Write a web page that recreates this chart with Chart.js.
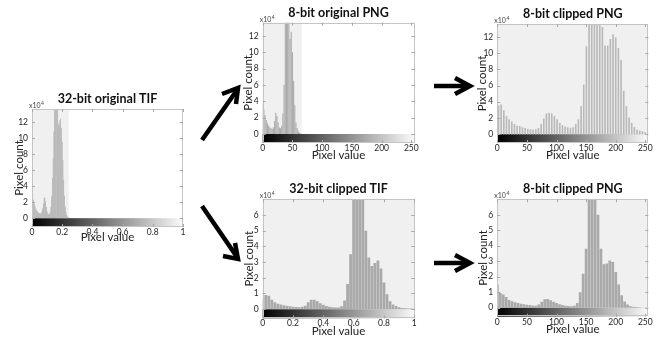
<!DOCTYPE html>
<html><head><meta charset="utf-8">
<script src="https://cdn.jsdelivr.net/npm/chart.js@4.4.1/dist/chart.umd.min.js"></script>
<style>
html,body{margin:0;padding:0;background:#fff;width:665px;height:339px;overflow:hidden;position:relative}
canvas.p{position:absolute}
svg{position:absolute;left:0;top:0;pointer-events:none}
</style></head><body>
<canvas class="p" id="p1"></canvas>
<canvas class="p" id="p2"></canvas>
<canvas class="p" id="p3"></canvas>
<canvas class="p" id="p4"></canvas>
<canvas class="p" id="p5"></canvas>
<svg width="665" height="339" viewBox="0 0 665 339">
  <g stroke="#000" stroke-width="4.5" fill="none" stroke-linecap="butt" stroke-linejoin="miter">
    <line x1="202" y1="140" x2="237" y2="90"/>
    <polyline points="222,94 238,88 236,104"/>
    <line x1="202" y1="206" x2="237" y2="257"/>
    <polyline points="223,256 238,259 235,243"/>
    <line x1="434" y1="86" x2="469" y2="86"/>
    <polyline points="455,78 470,86 455,94"/>
    <line x1="434" y1="263" x2="469" y2="263"/>
    <polyline points="455,255 470,263 455,271"/>
  </g>
</svg>
<script>
// ---------------- DATA (counts in units of 10^4) ----------------
const TITLES = ["32-bit original TIF", "8-bit original PNG", "8-bit clipped PNG", "32-bit clipped TIF", "8-bit clipped PNG"];
const X_LABEL = "Pixel value";
const Y_LABEL = "Pixel count";

// Panel 1: 32-bit original TIF, bins from 0 with width 0.005
const P1_BIN_START = 0, P1_BIN_WIDTH = 0.005;
const P1_COUNTS = [3.7,3.0,2.3,1.8,1.5,1.2,1.0,0.85,0.75,0.65,0.6,0.55,0.6,0.8,1.2,1.8,2.5,2.6,2.1,1.4,0.9,0.6,0.5,0.55,0.8,1.4,2.8,5.0,7.5,10.8,14.5,16,16,15,13.8,11.8,11.5,12.2,12.4,11.2,9.5,7.2,4.8,2.8,1.5,0.8,0.4,0.2,0.1];
const P1_DATA_MAX = 0.243;

// Panel 2: 8-bit original PNG, bins of width 2
const P2_BIN_START = 0, P2_BIN_WIDTH = 2;
const P2_COUNTS = [3.8,3.0,2.3,1.7,1.3,1.0,0.8,0.7,0.6,0.8,1.6,2.6,2.2,1.4,0.8,0.7,1.0,2.5,6.0,14.5,16,16,14,11.6,12.5,10.0,6.5,3.5,1.4,0.7,0.3,0.15,0.05];
const P2_DATA_MAX = 65.6;

// Panel 3: 8-bit clipped PNG (sparse, stretched levels)
const P3_BIN_START = 2, P3_BIN_WIDTH = 4.5;
const P3_COUNTS = [3.5,3.6,2.9,2.2,1.8,1.5,1.2,1.0,0.95,0.8,0.7,0.6,0.55,0.5,0.55,0.7,1.2,1.9,2.5,2.6,2.5,2.2,1.8,1.35,1.05,0.9,0.8,0.75,0.8,1.2,1.8,3.4,6.1,10.8,16,16,16,16,16,13.2,10.9,10.9,11.7,12.3,11.9,10.6,9.1,5.3,3.4,2.0,1.35,0.85,0.5,0.4,0.3,0.2];
const P3_DATA_MAX = 255;

// Panel 4: 32-bit clipped TIF, bins of width 0.02
const P4_BIN_START = 0, P4_BIN_WIDTH = 0.02;
const P4_COUNTS = [0.7,0.9,0.85,0.6,0.45,0.35,0.3,0.25,0.22,0.19,0.16,0.14,0.13,0.15,0.22,0.45,0.6,0.6,0.5,0.38,0.28,0.2,0.16,0.13,0.11,0.1,0.18,0.55,1.6,3.5,7.2,8,8,7.5,5.0,3.3,2.75,2.95,3.1,2.6,1.7,0.95,0.5,0.3,0.2,0.12,0.08,0.06,0.05,0.04,0.03];
const P4_DATA_MAX = 1;

// Panel 5: 8-bit clipped PNG, bins of width 5
const P5_BIN_START = 0, P5_BIN_WIDTH = 5;
const P5_COUNTS = [1.5,0.95,0.85,0.7,0.5,0.42,0.35,0.3,0.25,0.22,0.19,0.17,0.15,0.13,0.2,0.38,0.55,0.56,0.48,0.38,0.3,0.22,0.17,0.13,0.11,0.1,0.12,0.3,1.0,2.2,3.8,7.2,8,8,6.0,3.8,2.8,2.85,3.05,2.95,2.3,1.5,0.8,0.4,0.2,0.1,0.06,0.04,0.03,0.02,0.02,0.02];
const P5_DATA_MAX = 255;

// Tick labels
const X_TICKS_UNIT = [0, 0.2, 0.4, 0.6, 0.8, 1];
const X_TICKS_8BIT = [0, 50, 100, 150, 200, 250];
const Y_TICKS_BIG = [0, 2, 4, 6, 8, 10, 12];
const Y_TICKS_SMALL = [0, 1, 2, 3, 4, 5, 6];
const X_RANGE_UNIT = [0, 1];
const X_RANGE_8BIT = [0, 255];
const Y_RANGE_BIG = [-1.1, 13.6];
const Y_RANGE_SMALL = [-0.58, 7.0];

// ---------------- LAYOUT (page pixels) ----------------
const GEOM = {
  p1:{cx:0,  cy:85, cw:200,ch:165,L:32,   T:109,  R:183,  B:227,  yTitleX:19,   xTitleY:237},
  p2:{cx:215,cy:0,  cw:215,ch:170,L:262.7,T:22.7, R:414.3,B:143,  yTitleX:248.7,xTitleY:155},
  p3:{cx:450,cy:0,  cw:215,ch:170,L:497.3,T:24,   R:648.3,B:143,  yTitleX:482,  xTitleY:155},
  p4:{cx:215,cy:172,cw:215,ch:167,L:262.7,T:199.3,R:414.3,B:318.3,yTitleX:249,  xTitleY:331.7},
  p5:{cx:450,cy:172,cw:215,ch:167,L:497.3,T:199.3,R:648.3,B:316.7,yTitleX:483,  xTitleY:329}
};

const FONT = "Lato, 'Open Sans', 'Liberation Sans', sans-serif";
Chart.defaults.font.family = FONT;

const panelPlugin = {
  id: 'panel',
  beforeDatasetsDraw(chart, args, o) {
    const {ctx, chartArea: a, scales: {x, y}} = chart;
    const z = y.getPixelForValue(0);
    ctx.save();
    ctx.fillStyle = '#f0f0f0';
    const sx = Math.min(x.getPixelForValue(o.shadeMax), a.right);
    ctx.fillRect(a.left, a.top, sx - a.left, z - a.top);
    const g = ctx.createLinearGradient(a.left, 0, a.right, 0);
    g.addColorStop(0, '#000');
    g.addColorStop(1, '#fafafa');
    ctx.fillStyle = g;
    ctx.fillRect(a.left, z, a.right - a.left, a.bottom - z);
    ctx.restore();
  },
  afterDraw(chart, args, o) {
    const {ctx, chartArea: a, scales: {x, y}} = chart;
    ctx.save();
    ctx.strokeStyle = '#c4c4c4';
    ctx.lineWidth = 1;
    ctx.strokeRect(Math.round(a.left) + 0.5, Math.round(a.top) + 0.5, Math.round(a.right - a.left) - 1, Math.round(a.bottom - a.top) - 1);
    ctx.strokeStyle = '#a8a8a8';
    ctx.beginPath();
    x.ticks.forEach(t => {
      const px = Math.round(x.getPixelForValue(t.value)) + 0.5;
      ctx.moveTo(px, a.top); ctx.lineTo(px, a.top + 3);
      ctx.moveTo(px, a.bottom); ctx.lineTo(px, a.bottom - 3);
    });
    y.ticks.forEach(t => {
      const py = Math.round(y.getPixelForValue(t.value)) + 0.5;
      ctx.moveTo(a.left, py); ctx.lineTo(a.left + 3, py);
      ctx.moveTo(a.right, py); ctx.lineTo(a.right - 3, py);
    });
    ctx.stroke();
    ctx.fillStyle = '#111';
    ctx.font = "bold 12.5px " + FONT;
    ctx.textAlign = 'center';
    ctx.textBaseline = 'middle';
    ctx.fillText(o.title, (a.left + a.right) / 2, a.top - 10);
    ctx.fillStyle = '#444';
    ctx.font = "7px " + FONT;
    ctx.textAlign = 'left';
    ctx.textBaseline = 'alphabetic';
    const bx = a.left - 3, by = a.top - 1;
    ctx.fillText('x10', bx, by);
    const w = ctx.measureText('x10').width;
    ctx.font = "5px " + FONT;
    ctx.fillText('4', bx + w + 0.5, by - 3);
    ctx.restore();
  }
};

function makePanel(id, title, start, width, counts, dataMax, xRange, xTicks, yRange, yTicks, thin) {
  const g = GEOM[id];
  const cv = document.getElementById(id);
  cv.width = g.cw; cv.height = g.ch;
  cv.style.left = g.cx + 'px'; cv.style.top = g.cy + 'px';
  cv.style.width = g.cw + 'px'; cv.style.height = g.ch + 'px';
  const pts = counts.map((c, i) => ({x: start + i * width, y: c}));
  const titleFont = {size: 11.5, family: FONT};
  const lh = 11.5 * 1.2;
  new Chart(cv, {
    type: 'bar',
    data: {datasets: [{
      data: pts,
      backgroundColor: thin ? '#b9b9b9' : '#aaaaaa',
      borderWidth: 0,
      barPercentage: thin ? 1 : 0.93,
      categoryPercentage: 1,
      barThickness: thin ? 1 : undefined
    }]},
    options: {
      responsive: false,
      animation: false,
      devicePixelRatio: 1,
      layout: {padding: {left: 0, top: g.T - g.cy, right: g.cx + g.cw - g.R, bottom: 0}},
      plugins: {legend: {display: false}, tooltip: {enabled: false}, title: {display: false},
        panel: {title: title, shadeMax: dataMax}},
      scales: {
        x: {
          type: 'linear', offset: false, min: xRange[0], max: xRange[1],
          grid: {display: false, drawTicks: false}, border: {display: false},
          afterBuildTicks: s => { s.ticks = xTicks.map(v => ({value: v})); },
          ticks: {padding: 0, maxRotation: 0, autoSkip: false, color: '#262626', font: {size: 8.5}, callback: v => String(v)},
          title: {display: true, text: X_LABEL, color: '#222', font: titleFont,
                  padding: {top: 0, bottom: (g.cy + g.ch - g.xTitleY) - lh / 2}},
          afterFit: s => { s.height = g.cy + g.ch - g.B; }
        },
        y: {
          type: 'linear', min: yRange[0], max: yRange[1],
          grid: {display: false, drawTicks: false}, border: {display: false},
          afterBuildTicks: s => { s.ticks = yTicks.map(v => ({value: v})); },
          ticks: {padding: 4, autoSkip: false, color: '#262626', font: {size: 8.5}, callback: v => String(v)},
          title: {display: true, text: Y_LABEL, color: '#222', font: titleFont,
                  padding: {top: (g.yTitleX - g.cx) - lh / 2, bottom: 0}},
          afterFit: s => { s.width = g.L - g.cx; }
        }
      }
    },
    plugins: [panelPlugin]
  });
}

makePanel('p1', TITLES[0], P1_BIN_START, P1_BIN_WIDTH, P1_COUNTS, P1_DATA_MAX, X_RANGE_UNIT, X_TICKS_UNIT, Y_RANGE_BIG, Y_TICKS_BIG, false);
makePanel('p2', TITLES[1], P2_BIN_START, P2_BIN_WIDTH, P2_COUNTS, P2_DATA_MAX, X_RANGE_8BIT, X_TICKS_8BIT, Y_RANGE_BIG, Y_TICKS_BIG, false);
makePanel('p3', TITLES[2], P3_BIN_START, P3_BIN_WIDTH, P3_COUNTS, P3_DATA_MAX, X_RANGE_8BIT, X_TICKS_8BIT, Y_RANGE_BIG, Y_TICKS_BIG, true);
makePanel('p4', TITLES[3], P4_BIN_START, P4_BIN_WIDTH, P4_COUNTS, P4_DATA_MAX, X_RANGE_UNIT, X_TICKS_UNIT, Y_RANGE_SMALL, Y_TICKS_SMALL, false);
makePanel('p5', TITLES[4], P5_BIN_START, P5_BIN_WIDTH, P5_COUNTS, P5_DATA_MAX, X_RANGE_8BIT, X_TICKS_8BIT, Y_RANGE_SMALL, Y_TICKS_SMALL, false);
</script>
</body></html>
